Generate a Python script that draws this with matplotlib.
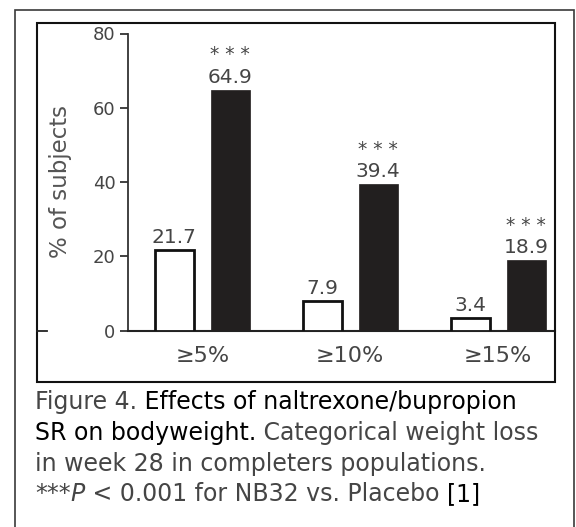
import matplotlib
matplotlib.use("Agg")
import matplotlib.pyplot as plt
from matplotlib.patches import Rectangle
from matplotlib.lines import Line2D
from matplotlib.text import Annotation
import numpy as np

# Categorical weight loss at week 28 (completers)
categories = ["\u22655%", "\u226510%", "\u226515%"]
placebo = [21.7, 7.9, 3.4]
nb32 = [64.9, 39.4, 18.9]
significance = ["***", "***", "***"]
y_ticks = [0, 20, 40, 60, 80]

W, H = 576, 527
plt.rcParams["font.family"] = ["DejaVu Sans"]
fig = plt.figure(figsize=(W / 100, H / 100), dpi=100)

GRAY = "#454545"
BAR = "#221f1f"


def px(x0, y0, x1, y1):
    """Figure-fraction rectangle from pixel corners (origin top-left)."""
    return [x0 / W, 1 - y1 / H, (x1 - x0) / W, (y1 - y0) / H]


ax = fig.add_axes(px(128, 33.5, 555, 330.5))

x = np.arange(len(categories))
off, width = 0.189, 0.264
ax.bar(x - off, placebo, width, facecolor="white", edgecolor="#111111",
       linewidth=2.0, zorder=3)
ax.bar(x + off, nb32, width, facecolor=BAR, edgecolor=BAR, linewidth=0.5,
       zorder=3)

label_kw = dict(ha="center", va="bottom", color=GRAY, fontsize=14.5,
                textcoords="offset pixels")
for xi, v in zip(x, placebo):
    ax.annotate(f"{v:.1f}", (xi - off, v), xytext=(0, 3), **label_kw)
for xi, v, s in zip(x, nb32, significance):
    ax.annotate(f"{v:.1f}", (xi + off, v), xytext=(0, 3), **label_kw)
    ax.annotate(" ".join(s), (xi + off, v), xytext=(0, 35),
                ha="center", va="center", color=GRAY, fontsize=13.5,
                textcoords="offset pixels")

ax.set_xlim(-0.5017, 2.3834)
ax.set_ylim(0, 80)
ax.set_yticks(y_ticks)
ax.set_xticks(x)
ax.set_xticklabels(categories)
ax.tick_params(axis="x", length=0, pad=11, labelsize=16, labelcolor=GRAY)
ax.tick_params(axis="y", length=6, width=1.3, pad=3, labelsize=13,
               labelcolor=GRAY, color="#333333", direction="out")
for side in ("top", "right"):
    ax.spines[side].set_visible(False)
ax.spines["left"].set_color("#333333")
ax.spines["left"].set_linewidth(1.3)
ax.spines["bottom"].set_color("#222222")
ax.spines["bottom"].set_linewidth(1.5)
ax.set_ylabel("% of subjects", fontsize=16.5, color="#555555")
ax.yaxis.set_label_coords(-0.13, 0.5)

# Frames around the panel
fig.add_artist(Rectangle((15 / W, -0.05), (574 - 15) / W, 1.05 - 10 / H,
                         transform=fig.transFigure, fill=False,
                         edgecolor="#3a3a3a", linewidth=1.2))
fig.add_artist(Rectangle((37 / W, 1 - 382 / H), (555 - 37) / W,
                         (382 - 23) / H, transform=fig.transFigure,
                         fill=False, edgecolor="#111111", linewidth=1.5))
fig.add_artist(Line2D([37 / W, 47 / W], [1 - 330.5 / H] * 2,
                      transform=fig.transFigure, color="#222222",
                      linewidth=1.3))

# Caption with mixed colours, pieces chained along each baseline
cap_size = 17
baselines = [409, 440, 471, 501]
lines = [
    [("Figure 4.", GRAY, "normal"), (" Effects of naltrexone/bupropion", "black", "normal")],
    [("SR on bodyweight.", "black", "normal"), (" Categorical weight loss", GRAY, "normal")],
    [("in week 28 in completers populations.", GRAY, "normal")],
    [("***", GRAY, "normal"), ("P", GRAY, "italic"),
     (" < 0.001 for NB32 vs. Placebo ", GRAY, "normal"), ("[1]", "black", "normal")],
]
for base, pieces in zip(baselines, lines):
    yb = H - base
    prev = None
    for text, color, style in pieces:
        if prev is None:
            prev = fig.text(35 / W, yb / H, text, color=color, style=style,
                            fontsize=cap_size, ha="left", va="baseline")
        else:
            prev = fig.add_artist(Annotation(
                text, xy=(1, yb), xycoords=(prev, "figure pixels"),
                color=color, style=style, fontsize=cap_size,
                ha="left", va="baseline"))

fig.savefig("out.png", dpi=100)
